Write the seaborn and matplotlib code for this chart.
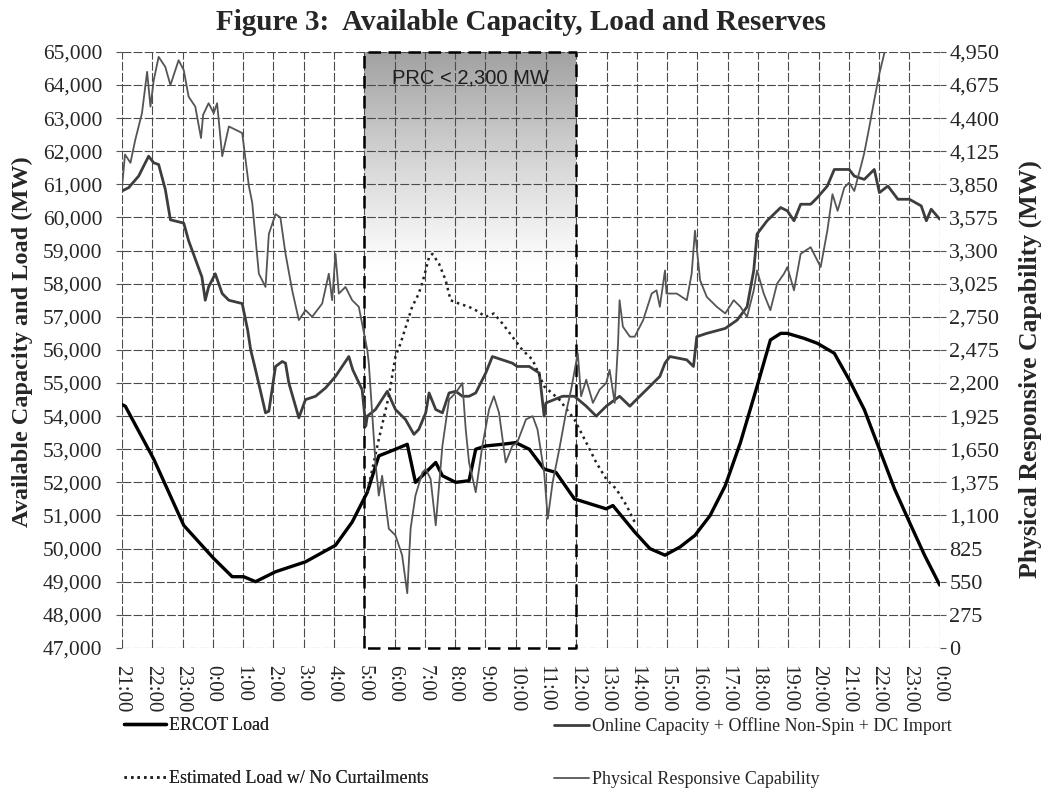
import numpy as np
import matplotlib
matplotlib.use("Agg")
import matplotlib.pyplot as plt
import seaborn as sns
from matplotlib.colors import LinearSegmentedColormap
from matplotlib.lines import Line2D
from matplotlib.ticker import FuncFormatter

# hours counted from 21:00 on the first day
TICK_LABELS = ["21:00", "22:00", "23:00", "0:00", "1:00", "2:00", "3:00", "4:00",
               "5:00", "6:00", "7:00", "8:00", "9:00", "10:00", "11:00", "12:00",
               "13:00", "14:00", "15:00", "16:00", "17:00", "18:00", "19:00",
               "20:00", "21:00", "22:00", "23:00", "0:00"]

# ERCOT Load (MW, left axis)
load_hours = [0.0, 0.11, 1.05, 2.04, 3.03, 3.64, 4.02, 4.41, 5.07, 6.06, 7.05, 7.6,
              8.1, 8.48, 9.03, 9.42, 9.69, 10.03, 10.36, 10.58, 11.02, 11.46, 11.68,
              12.01, 12.56, 13.0, 13.45, 13.94, 14.33, 14.94, 15.99, 16.21, 16.93,
              17.43, 17.93, 18.43, 18.92, 19.42, 19.92, 20.42, 20.97, 21.41, 21.75,
              21.97, 22.52, 22.96, 23.52, 24.01, 24.51, 25.01, 25.51, 26.0, 26.5, 27.0]
load_mw = [54350, 54300, 52700, 50700, 49700, 49150, 49150, 49000, 49300, 49600, 50100,
           50800, 51700, 52800, 53000, 53150, 52000, 52300, 52600, 52200, 52000, 52050,
           53000, 53100, 53150, 53200, 53000, 52400, 52300, 51500, 51200, 51300, 50500,
           50000, 49800, 50050, 50400, 51000, 51900, 53200, 54900, 56300, 56500, 56500,
           56350, 56200, 55900, 55100, 54200, 53000, 51800, 50800, 49800, 48900]

# Online Capacity + Offline Non-Spin + DC Import (MW, left axis)
cap_hours = [0.0, 0.22, 0.55, 0.88, 1.05, 1.21, 1.43, 1.6, 2.04, 2.2, 2.64, 2.75, 2.86,
             3.08, 3.31, 3.53, 3.97, 4.15, 4.25, 4.41, 4.74, 4.85, 5.07, 5.29, 5.4,
             5.51, 5.73, 5.84, 6.06, 6.39, 6.72, 7.05, 7.49, 7.62, 7.93, 8.05, 8.1,
             8.37, 8.76, 9.03, 9.36, 9.64, 9.8, 10.03, 10.14, 10.36, 10.58, 10.8, 11.02,
             11.24, 11.46, 11.68, 12.01, 12.23, 12.56, 12.89, 13.05, 13.45, 13.78, 13.94,
             14.0, 14.55, 14.94, 15.33, 15.66, 15.99, 16.43, 16.77, 16.93, 17.32, 17.76,
             17.93, 18.09, 18.65, 18.87, 18.98, 19.31, 19.92, 20.31, 20.64, 20.86, 20.97,
             21.3, 21.75, 21.97, 22.19, 22.41, 22.74, 22.96, 23.29, 23.52, 24.01, 24.18,
             24.51, 24.84, 25.01, 25.29, 25.62, 26.0, 26.39, 26.56, 26.72, 27.0]
cap_mw = [60800, 60900, 61250, 61850, 61650, 61600, 60850, 59930, 59830, 59300, 58200,
          57500, 57900, 58300, 57700, 57500, 57400, 56600, 56000, 55400, 54100, 54150,
          55500, 55650, 55600, 55000, 54300, 53950, 54500, 54600, 54850, 55200, 55800,
          55400, 54800, 53700, 54000, 54200, 54750, 54200, 53900, 53450, 53600, 54100,
          54700, 54200, 54100, 54700, 54750, 54600, 54600, 54700, 55300, 55800, 55700,
          55600, 55500, 55500, 55300, 54000, 54400, 54600, 54600, 54300, 54000, 54300,
          54600, 54300, 54450, 54800, 55200, 55600, 55800, 55700, 55500, 56400, 56500,
          56650, 56900, 57300, 58400, 59500, 59900, 60300, 60200, 59900, 60400, 60400,
          60600, 60950, 61450, 61450, 61250, 61150, 61450, 60750, 60950, 60550, 60550,
          60350, 59900, 60250, 59950]

# Estimated Load w/ No Curtailments (MW, left axis)
est_hours = [8.1, 8.48, 8.81, 9.03, 9.2, 9.58, 9.8, 9.97, 10.14, 10.25, 10.47, 10.69,
             10.85, 11.13, 11.46, 11.68, 12.01, 12.28, 12.56, 12.89, 13.22, 13.56, 13.94,
             14.44, 14.94, 15.33, 15.66, 15.99, 16.32, 16.66, 16.93]
est_mw = [51700, 53300, 54600, 55800, 56200, 57300, 57700, 58200, 58800, 58900, 58600,
          58100, 57500, 57400, 57300, 57200, 57000, 57100, 56800, 56400, 56000, 55700,
          54900, 54500, 53900, 53200, 52600, 52100, 51800, 51300, 50800]

# Physical Responsive Capability (MW, right axis)
prc_hours = [0.0, 0.1, 0.28, 0.44, 0.66, 0.83, 0.94, 1.05, 1.21, 1.43, 1.6, 1.87, 2.04,
             2.2, 2.42, 2.61, 2.68, 2.86, 3.03, 3.14, 3.31, 3.53, 3.75, 3.97, 4.19, 4.3,
             4.52, 4.74, 4.85, 5.07, 5.23, 5.4, 5.62, 5.84, 6.06, 6.28, 6.61, 6.83, 6.94,
             7.05, 7.16, 7.38, 7.6, 7.82, 7.99, 8.1, 8.15, 8.26, 8.37, 8.48, 8.59, 8.81,
             9.03, 9.25, 9.42, 9.53, 9.69, 9.92, 10.03, 10.19, 10.36, 10.58, 10.8, 11.02,
             11.24, 11.35, 11.46, 11.68, 11.9, 12.12, 12.28, 12.45, 12.67, 12.89, 13.05,
             13.34, 13.56, 13.72, 13.94, 14.06, 14.22, 14.44, 14.66, 14.83, 15.05, 15.16,
             15.33, 15.55, 15.77, 15.99, 16.1, 16.27, 16.38, 16.43, 16.54, 16.77, 16.93,
             17.21, 17.49, 17.65, 17.76, 17.93, 17.98, 18.32, 18.65, 18.81, 18.92, 19.09,
             19.31, 19.64, 19.92, 20.2, 20.42, 20.64, 20.86, 20.97, 21.19, 21.41, 21.63,
             21.86, 21.97, 22.19, 22.41, 22.74, 22.85, 23.07, 23.29, 23.46, 23.63, 23.85,
             24.01, 24.18, 24.4, 24.51, 24.68, 24.84, 25.01, 25.18, 25.34]
prc_mw = [3823, 4098, 4029, 4221, 4441, 4785, 4496, 4716, 4909, 4826, 4675, 4881, 4799,
          4579, 4496, 4235, 4428, 4524, 4441, 4524, 4084, 4331, 4304, 4276, 3836, 3699,
          3108, 2998, 3438, 3603, 3575, 3273, 2970, 2723, 2805, 2750, 2860, 3108, 2888,
          3273, 2943, 2998, 2888, 2833, 2613, 2475, 2365, 1953, 1540, 1265, 1430, 990,
          935, 770, 454, 990, 1265, 1458, 1485, 1403, 1018, 1678, 2063, 2118, 2200, 1815,
          1540, 1293, 1678, 1980, 2090, 1953, 1540, 1678, 1705, 1898, 1925, 1815, 1458,
          1073, 1375, 1650, 1953, 2145, 2448, 2090, 2228, 2035, 2145, 2200, 2310, 2035,
          2530, 2888, 2668, 2585, 2585, 2723, 2943, 2970, 2833, 3135, 2943, 2943, 2888,
          3108, 3465, 3053, 2915, 2833, 2778, 2888, 2833, 2750, 2970, 3135, 2943, 2805,
          3025, 3108, 3163, 2970, 3273, 3328, 3273, 3163, 3465, 3768, 3630, 3823, 3864,
          3795, 4001, 4111, 4331, 4551, 4771, 4950, 5115]

# PRC < 2,300 MW window (5:00 to 12:00)
window_start, window_end = 8, 15

sns.set_style("white")
plt.rcParams["font.family"] = ["Liberation Serif", "DejaVu Serif"]

fig = plt.figure(figsize=(10.47, 7.94), dpi=100)
ax = fig.add_axes([0.1165, 0.184, 0.781, 0.7506])
ax2 = ax.twinx()

# gray gradient in the window, fading to white lower down
grad = np.linspace(0, 1, 256).reshape(-1, 1)
cmap = LinearSegmentedColormap.from_list(
    "fade", [(0.0, "#ffffff"), (0.64, "#ffffff"), (0.8, "#dadada"), (1.0, "#a2a2a2")])
ax.imshow(grad, extent=[window_start, window_end, 47000, 65000], origin="lower",
          aspect="auto", cmap=cmap, vmin=0, vmax=1, zorder=0,
          interpolation="bicubic")
ax.set_xlim(0, 27)
ax.set_ylim(47000, 65000)

ax.set_xticks(np.arange(len(TICK_LABELS)))
ax.set_xticklabels(TICK_LABELS, rotation=-90, fontsize=15)
ax.set_yticks(np.arange(47000, 65001, 1000))
ax.yaxis.set_major_formatter(FuncFormatter(lambda v, p: f"{int(v):,}"))
ax2.set_yticks(np.arange(0, 4951, 275))
ax2.yaxis.set_major_formatter(FuncFormatter(lambda v, p: f"{int(v):,}"))
ax.tick_params(axis="y", labelsize=15.5, length=4, color="#555555", pad=10)
ax.tick_params(axis="x", length=4, color="#555555", pad=8)
ax2.tick_params(axis="y", labelsize=16, length=4, color="#555555", pad=3)

ax.grid(True, color="#4a4a4a", linewidth=0.8, linestyle=(0, (8, 2)), zorder=1)
ax.set_axisbelow(False)
for a in (ax, ax2):
    for s in a.spines.values():
        s.set_visible(False)

# dashed outline of the window
ax.plot([window_start, window_start, window_end, window_end, window_start],
        [47000, 65000, 65000, 47000, 47000], color="black", linewidth=1.8,
        linestyle=(0, (5, 3)), zorder=3, clip_on=False)
ax.text(11.5, 64200, "PRC < 2,300 MW", family="Liberation Sans", fontsize=14.5,
        ha="center", va="center", color="#1e1e1e", zorder=4)

sns.lineplot(x=cap_hours, y=cap_mw, ax=ax, color="#3d3d3d", linewidth=2.0,
             estimator=None, zorder=5)
sns.lineplot(x=load_hours, y=load_mw, ax=ax, color="black", linewidth=2.4,
             estimator=None, zorder=6)
sns.lineplot(x=est_hours, y=est_mw, ax=ax, color="#222222", linewidth=1.8,
             linestyle=(0, (1, 1.6)), estimator=None, zorder=6)
sns.lineplot(x=prc_hours, y=prc_mw, ax=ax2, color="#555555", linewidth=1.3,
             estimator=None, zorder=5)
ax2.set_ylim(0, 4950)
ax.set_ylabel("")
ax.set_xlabel("")

fig.text(0.498, 0.972, "Figure 3:  Available Capacity, Load and Reserves",
         fontsize=21, fontweight="bold", ha="center", va="center")
fig.text(0.021, 0.57, "Available Capacity and Load (MW)", fontsize=17.5,
         fontweight="bold", rotation=90, ha="center", va="center")
fig.text(0.984, 0.535, "Physical Responsive Capability (MW)", fontsize=18.5,
         fontweight="bold", rotation=90, ha="center", va="center")

left_handles = [Line2D([], [], color="black", linewidth=2.4),
                Line2D([], [], color="#222222", linewidth=1.8, linestyle=(0, (1, 1.6)))]
right_handles = [Line2D([], [], color="#3d3d3d", linewidth=2.0),
                 Line2D([], [], color="#555555", linewidth=1.3)]
leg1 = fig.legend(left_handles, ["ERCOT Load", "Estimated Load w/ No Curtailments"],
                  loc="upper left", bbox_to_anchor=(0.103, 0.117), frameon=False,
                  fontsize=13, handlelength=2.3, handletextpad=0.2, labelspacing=2.0)
fig.add_artist(leg1)
fig.legend(right_handles, ["Online Capacity + Offline Non-Spin + DC Import",
                           "Physical Responsive Capability"],
           loc="upper left", bbox_to_anchor=(0.514, 0.117), frameon=False,
           fontsize=13, handlelength=1.9, handletextpad=0.2, labelspacing=2.0)

fig.savefig("out.png", dpi=100)
